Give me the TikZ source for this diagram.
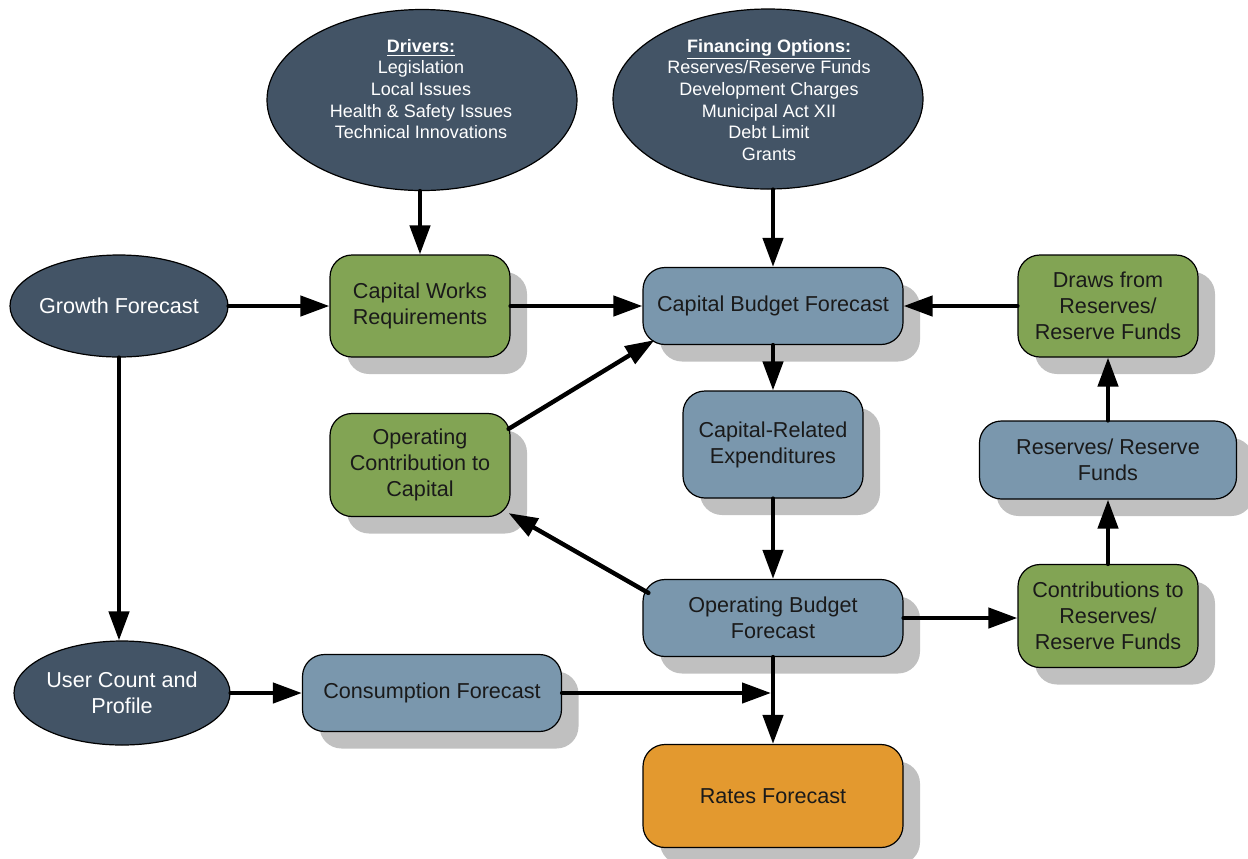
\documentclass[tikz,border=0pt]{standalone}
\usepackage{fontspec}
\setmainfont{Liberation Sans}
\usetikzlibrary{shapes.geometric,shadows,arrows.meta,calc}
\definecolor{ellcol}{HTML}{435466}
\definecolor{bluebox}{HTML}{7A97AD}
\definecolor{greenbox}{HTML}{82A454}
\definecolor{orangebox}{HTML}{E3992F}
\definecolor{shadowcol}{HTML}{C0C0C0}
\definecolor{txtcol}{HTML}{1A1A1A}
\tikzset{
  base/.style={draw=black, line width=0.6pt, align=center, inner sep=0pt},
  ell/.style={base, ellipse, fill=ellcol},
  elltxt/.style={align=center, inner sep=0pt, text=white},
  smalltxt/.style={font=\fontsize{9}{10.85}\selectfont},
  bigtxt/.style={font=\fontsize{10.8}{13}\selectfont},
  boxnode/.style={base, rectangle, rounded corners=11pt, text=txtcol, bigtxt,
    drop shadow={shadow xshift=8.5pt, shadow yshift=-8.5pt, fill=shadowcol, opacity=1}},
  bluen/.style={boxnode, fill=bluebox},
  greenn/.style={boxnode, fill=greenbox},
  orangen/.style={boxnode, fill=orangebox},
  arr/.style={line width=2.2pt, line cap=round, -{Triangle[length=14.5pt,width=10pt]}}
}
\begin{document}
\begin{tikzpicture}[x=0.5pt, y=-0.5pt]
\useasboundingbox (0,0) rectangle (1248,858);

% ellipses
\node[ell, minimum width=155pt, minimum height=90.5pt] (drivers) at (422,100) {};
\node[elltxt, smalltxt] (driverstxt) at (421,89) {\underline{\textbf{Drivers:}}\\Legislation\\Local Issues\\Health \& Safety Issues\\Technical Innovations};
\node[ell, minimum width=155pt, minimum height=90pt] (fin) at (768,99) {};
\node[elltxt, smalltxt] (fintxt) at (769,100) {\underline{\textbf{Financing Options:}}\\Reserves/Reserve Funds\\Development Charges\\Municipal Act XII\\Debt Limit\\Grants};
\node[ell, minimum width=109pt, minimum height=51pt] (growth) at (119,306) {};
\node[elltxt, bigtxt] (growthtxt) at (119,306) {Growth Forecast};
\node[ell, minimum width=108pt, minimum height=52pt] (user) at (122,693) {};
\node[elltxt, bigtxt] (usertxt) at (122,693) {User Count and\\Profile};

% boxes
\node[greenn, minimum width=90pt, minimum height=51pt] (cw) at (420,306) {Capital Works\\Requirements};
\node[bluen, minimum width=130pt, minimum height=38.5pt] (cbf) at (773,306) {Capital Budget Forecast};
\node[greenn, minimum width=90pt, minimum height=51pt] (draws) at (1108,306) {Draws from\\Reserves/\\Reserve Funds};
\node[greenn, minimum width=90pt, minimum height=51.5pt] (occ) at (420,465) {Operating\\Contribution to\\Capital};
\node[bluen, minimum width=90pt, minimum height=53.5pt] (cre) at (773,444.5) {Capital-Related\\Expenditures};
\node[bluen, minimum width=128.5pt, minimum height=39pt] (res) at (1108,460) {Reserves/ Reserve\\Funds};
\node[bluen, minimum width=130pt, minimum height=38.5pt] (obf) at (773,618) {Operating Budget\\Forecast};
\node[greenn, minimum width=90pt, minimum height=51.5pt] (contr) at (1108,616) {Contributions to\\Reserves/\\Reserve Funds};
\node[bluen, minimum width=129.5pt, minimum height=38.5pt] (cons) at (432,693) {Consumption Forecast};
\node[orangen, minimum width=130pt, minimum height=51.5pt] (rates) at (773,796) {Rates Forecast};

% connectors
\draw[arr] (drivers.south -| cw.north) -- (cw.north);
\draw[arr] (fin.south -| cbf.north) -- (cbf.north);
\draw[arr] (growth.east) -- (cw.west);
\draw[arr] (cw.east) -- (cbf.west);
\draw[arr] (draws.west) -- (cbf.east);
\draw[arr] ($(occ.north east)+(-2,16)$) -- ($(cbf.south west)+(12,-5)$);
\draw[arr] (cbf.south) -- (cre.north);
\draw[arr] (cre.south) -- (obf.north);
\draw[arr] ($(obf.north west)+(6,14)$) -- ($(occ.south east)+(-2,-4)$);
\draw[arr] (obf.east) -- (obf.east -| contr.west);
\draw[arr] (contr.north) -- (res.south);
\draw[arr] (res.north) -- (draws.south);
\draw[arr] (growth.south) -- (growth.south |- user.north);
\draw[arr] (user.east) -- (cons.west);
\coordinate (junc) at (obf.south |- cons.east);
\draw[arr, shorten >=1pt] (cons.east) -- (junc);
\draw[arr] (obf.south) -- (rates.north);
\end{tikzpicture}
\end{document}
